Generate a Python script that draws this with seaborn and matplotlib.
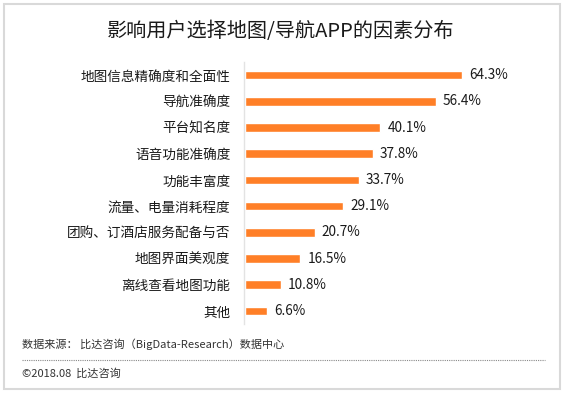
import numpy as np
from matplotlib import pyplot as plt
from matplotlib.patches import Rectangle
import seaborn as sns
import pandas as pd

sns.set_theme(style='white')
plt.rcParams['font.family'] = ['Noto Sans CJK SC', 'DejaVu Sans']

factors = ['地图信息精确度和全面性', '导航准确度', '平台知名度', '语音功能准确度', '功能丰富度',
           '流量、电量消耗程度', '团购、订酒店服务配备与否', '地图界面美观度', '离线查看地图功能', '其他']
shares = [64.3, 56.4, 40.1, 37.8, 33.7, 29.1, 20.7, 16.5, 10.8, 6.6]

title = '影响用户选择地图/导航APP的因素分布'
source = '数据来源： 比达咨询（BigData-Research）数据中心'
copyright_note = '©2018.08  比达咨询'

df = pd.DataFrame({'factor': factors, 'share': shares})

fig = plt.figure(figsize=(5.64, 3.95), dpi=100)
ax = fig.add_axes([243.5 / 564, 1 - 324 / 395, (545 - 243.5) / 564, 262 / 395])

sns.barplot(data=df, x='share', y='factor', orient='h', color='#ff7f27',
            saturation=1, width=0.33, ax=ax)

ax.set_xlim(-0.3, (545 - 243.5) / 3.39 - 0.3)
ax.set_ylim(9.5, -0.5)
ax.set_xlabel('')
ax.set_ylabel('')
ax.set_xticks([])
ax.tick_params(axis='y', length=0, pad=9.5, labelsize=9.8, labelcolor='#1a1a1a')
for side in ['top', 'right', 'bottom']:
    ax.spines[side].set_visible(False)
ax.spines['left'].set_color('#e3e3e3')
ax.spines['left'].set_linewidth(1)

for i, v in enumerate(shares):
    ax.text(v + 2.1, i, f'{v}%', va='center', ha='left', fontsize=9.8, color='#1a1a1a')

fig.text(281 / 564, 1 - 32 / 395, title, ha='center', va='center', fontsize=14.5, color='#1a1a1a')
fig.text(22 / 564, 1 - 344 / 395, source, ha='left', va='center', fontsize=8, color='#333333')
fig.text(22 / 564, 1 - 373 / 395, copyright_note, ha='left', va='center', fontsize=8, color='#333333')

fig.add_artist(plt.Line2D([22 / 564, 545 / 564], [1 - 360 / 395, 1 - 360 / 395],
                          color='#888888', linewidth=0.8, linestyle=(0, (1, 1))))
fig.add_artist(Rectangle((4 / 564, 1 - 389 / 395), 556 / 564, 385 / 395, fill=False,
                         edgecolor='#d9d9d9', linewidth=1.5, transform=fig.transFigure))

fig.savefig('out.png', dpi=100)
